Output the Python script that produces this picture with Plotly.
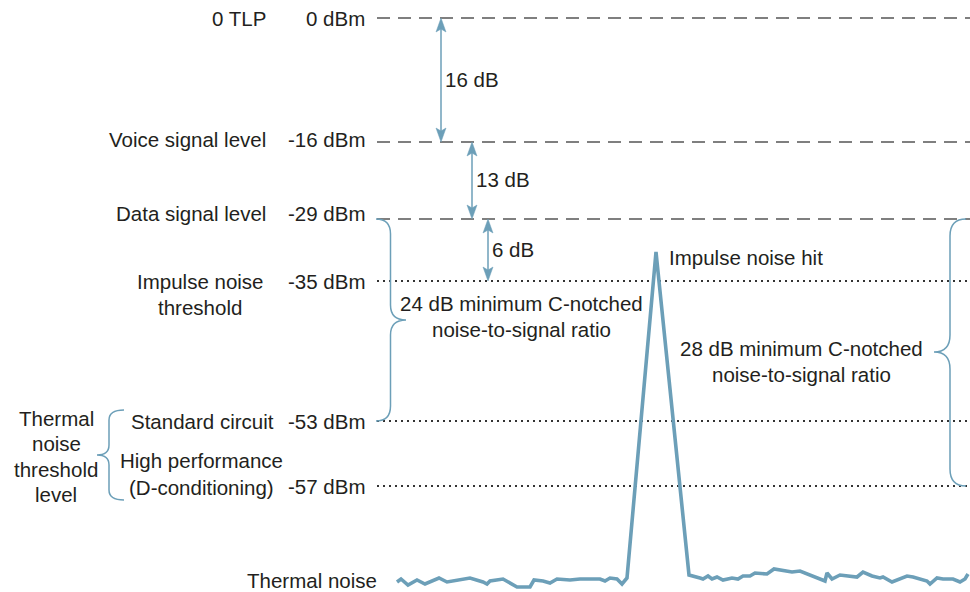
import plotly.graph_objects as go

# ---------------- data ----------------
level_dbm = [0, -16, -29, -35, -53, -57]
level_text = ["0 dBm", "-16 dBm", "-29 dBm", "-35 dBm", "-53 dBm", "-57 dBm"]
level_style = ["dash", "dash", "dash", "dot", "dot", "dot"]
# diagram is not to scale: vertical placement of each level in the drawing
level_pos = [18, 142, 219, 281, 421, 486]

gap_labels = ["16 dB", "13 dB", "6 dB"]          # between consecutive levels
gap_pairs = [(0, 1), (1, 2), (2, 3)]

# thermal noise trace with impulse hit (time, drawn level)
noise_t = [397, 401, 408, 417, 425, 433, 439, 447, 460, 470, 483, 487, 490, 503,
           517, 530, 534, 543, 550, 557, 570, 580, 600, 605, 610, 617, 622, 627,
           656,
           689, 700, 703, 708, 712, 717, 723, 732, 738, 743, 750, 755, 767, 774,
           792, 800, 825, 827, 832, 840, 850, 857, 863, 872, 880, 883, 892, 897,
           907, 913, 927, 930, 937, 943, 953, 960, 965, 968]
noise_v = [582, 579, 585, 580, 584, 580, 578, 582, 580, 578, 582, 584, 581, 579,
           587, 587, 580, 581, 583, 579, 580, 579, 579, 581, 578, 579, 584, 578,
           252,
           575, 578, 579, 576, 579, 577, 580, 578, 579, 576, 576, 573, 574, 569,
           572, 571, 581, 573, 579, 575, 576, 577, 572, 576, 578, 577, 582, 580,
           576, 577, 581, 584, 578, 579, 579, 582, 579, 574]

# ---------------- style ----------------
BLUE = "#6c9fb8"
TXT = "#231f20"
FONT = "Liberation Sans, Arial, sans-serif"
FS = 20.5
W, H = 970, 592
LINE_X0, LINE_X1 = 377, 970

fig = go.Figure()

fig.add_trace(go.Scatter(x=noise_t, y=noise_v, mode="lines",
                         line=dict(color=BLUE, width=3.6),
                         hoverinfo="skip", showlegend=False))

shapes = []
annotations = []


def txt(x, y, s, anchor="center", size=FS):
    annotations.append(dict(x=x, y=y, xref="x", yref="y", text=s,
                            showarrow=False, xanchor=anchor, yanchor="middle",
                            font=dict(family=FONT, size=size, color=TXT)))


# level lines and labels
for p, lab, st in zip(level_pos, level_text, level_style):
    if st == "dash":
        line = dict(color="#555555", width=1.5, dash="13px,8px")
    else:
        line = dict(color="#333333", width=2, dash="2px,4px")
    shapes.append(dict(type="line", xref="x", yref="y", x0=LINE_X0, x1=LINE_X1,
                       y0=p, y1=p, line=line, layer="below"))
    off = -3 if st == "dash" and p > 100 else 0
    if p == level_pos[2]:
        off = -6
    txt(367, p + off, lab, anchor="right")

# left names
txt(268, level_pos[0], "0 TLP", anchor="right")
txt(268, level_pos[1] - 3, "Voice signal level", anchor="right")
txt(268, level_pos[2] - 6, "Data signal level", anchor="right")
txt(200, level_pos[3], "Impulse noise")
txt(200, level_pos[3] + 26, "threshold")
txt(202, level_pos[4], "Standard circuit")
txt(201, level_pos[5] - 26, "High performance")
txt(201, level_pos[5] + 1, "(D-conditioning)")
for i, s in enumerate(["Thermal", "noise", "threshold", "level"]):
    txt(56, 418 + 25.5 * i, s)
txt(379, 580, "Thermal noise", anchor="right")

# gap arrows
arrow_x = [441, 472, 488]
for (a, b), lab, ax in zip(gap_pairs, gap_labels, arrow_x):
    y0, y1 = level_pos[a], level_pos[b]
    hl, hw, nt = 14, 5, 11
    shapes.append(dict(type="line", xref="x", yref="y", x0=ax, x1=ax,
                       y0=y0 + nt, y1=y1 - nt, line=dict(color=BLUE, width=1.5)))
    shapes.append(dict(type="path", xref="x", yref="y",
                       path=f"M{ax},{y0} L{ax-hw},{y0+hl} L{ax},{y0+nt} L{ax+hw},{y0+hl} Z",
                       fillcolor=BLUE, line=dict(color=BLUE, width=0.5)))
    shapes.append(dict(type="path", xref="x", yref="y",
                       path=f"M{ax},{y1} L{ax-hw},{y1-hl} L{ax},{y1-nt} L{ax+hw},{y1-hl} Z",
                       fillcolor=BLUE, line=dict(color=BLUE, width=0.5)))
    txt(ax + 2, (y0 + y1) / 2 - 1, lab, anchor="left")


def brace(x_end, x_spine, x_tip, y_top, y_bot, y_mid, r=14):
    return (f"M{x_end},{y_top} Q{x_spine},{y_top} {x_spine},{y_top + r} "
            f"L{x_spine},{y_mid - r} Q{x_spine},{y_mid} {x_tip},{y_mid} "
            f"Q{x_spine},{y_mid} {x_spine},{y_mid + r} "
            f"L{x_spine},{y_bot - r} Q{x_spine},{y_bot} {x_end},{y_bot}")


brace_line = dict(color=BLUE, width=1.5)
# 24 dB brace (data level to standard circuit)
shapes.append(dict(type="path", xref="x", yref="y", line=brace_line,
                   path=brace(376, 390.5, 406, level_pos[2], level_pos[4], 320, r=15)))
# 28 dB brace (data level to high performance)
shapes.append(dict(type="path", xref="x", yref="y", line=brace_line,
                   path=brace(966, 950, 934, level_pos[2], level_pos[5], 352, r=17)))
# thermal noise threshold brace
shapes.append(dict(type="path", xref="x", yref="y", line=brace_line,
                   path=brace(124, 109, 97, 410, 500, 455, r=10)))

txt(521, 303, "24 dB minimum C-notched")
txt(521, 329, "noise-to-signal ratio")
txt(801, 348, "28 dB minimum C-notched")
txt(801, 374, "noise-to-signal ratio")
txt(667, 257, "Impulse noise hit", anchor="left")

fig.update_layout(
    width=W, height=H,
    margin=dict(l=0, r=0, t=0, b=0),
    paper_bgcolor="white", plot_bgcolor="white",
    xaxis=dict(range=[0, W], visible=False, fixedrange=True),
    yaxis=dict(range=[H, 0], visible=False, fixedrange=True),
    shapes=shapes, annotations=annotations,
    showlegend=False,
)

fig.write_html("out.html", config={"displayModeBar": False},
               post_script="document.body.style.margin='0';document.body.style.overflow='hidden';")
